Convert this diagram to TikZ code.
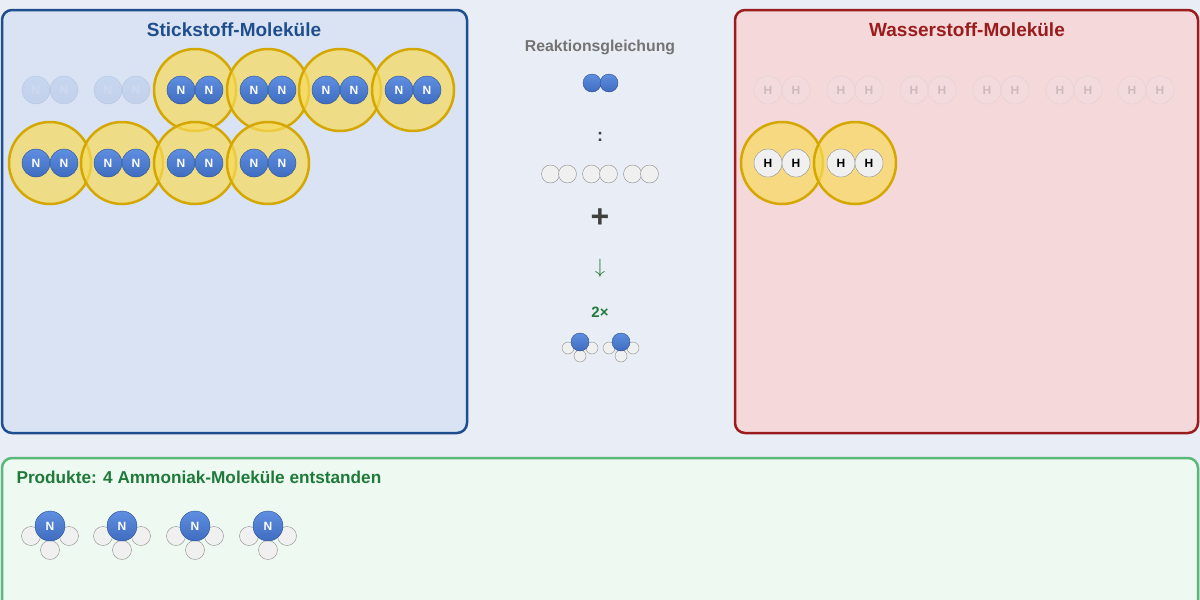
\documentclass[tikz,border=0pt]{standalone}
\usepackage{fontspec}
\setmainfont{Liberation Sans}
\usetikzlibrary{positioning}
\definecolor{bgc}{HTML}{E9EEF6}
\definecolor{nbox}{HTML}{DAE3F3}
\definecolor{nline}{HTML}{1F4E8F}
\definecolor{hbox}{HTML}{F4D8DA}
\definecolor{hline}{HTML}{9B1C1C}
\definecolor{pbox}{HTML}{EDF9F1}
\definecolor{pline}{HTML}{5CB878}
\definecolor{ptext}{HTML}{1F7A3A}
\definecolor{natom}{HTML}{5F8FE0}
\definecolor{ndark}{HTML}{3F6CC0}
\definecolor{nedge}{HTML}{2B4F8F}
\definecolor{gold}{HTML}{D4A800}
\definecolor{glow}{HTML}{F7DA5A}
\tikzset{
  box/.style={rounded corners=10pt, line width=2.5pt},
  natm/.style={circle, draw=nedge, top color=natom, bottom color=ndark, minimum size=#1, inner sep=0pt,
    text=white, font=\bfseries\fontsize{12}{12}\selectfont},
  hatm/.style={circle, draw=black!45, fill=white!94!black, minimum size=#1, inner sep=0pt,
    font=\bfseries\fontsize{12}{12}\selectfont},
  fade/.style={opacity=0.15},
  halo/.style={circle, draw=gold, line width=2.5pt, fill=glow, fill opacity=0.7, minimum size=82pt}
}
\begin{document}
\begin{tikzpicture}[x=1pt,y=-1pt]
\fill[bgc] (0,0) rectangle (1200,600);
\useasboundingbox (0,0) rectangle (1200,600);
% boxes
\draw[box, fill=nbox, draw=nline] (2,10) rectangle (467,433);
\draw[box, fill=hbox, draw=hline] (735,10) rectangle (1198,433);
\draw[box, fill=pbox, draw=pline] (2,458) rectangle (1198,612);
\node[text=nline, font=\bfseries\fontsize{19}{19}\selectfont] (NT) at (234,30) {Stickstoff-Moleküle};
\node[text=hline, font=\bfseries\fontsize{19}{19}\selectfont] (HT) at (967,30) {Wasserstoff-Moleküle};
\node[text=ptext, font=\bfseries\fontsize{17.2}{18}\selectfont, anchor=west] (PT) at (13,477) {Produkte: 4 Ammoniak-Moleküle entstanden};
% nitrogen
\foreach \x [count=\i] in {50,122} {
  \node[natm=28pt, fade] (Na\i) at (\x-14,90) {N};
  \node[natm=28pt, fade] (Nb\i) at (\x+14,90) {N};
}
\foreach \x/\y [count=\i] in {195/90,268/90,340/90,413/90,50/163,122/163,195/163,268/163} {
  \node[halo] (NG\i) at (\x,\y) {};
}
\foreach \x/\y [count=\i] in {195/90,268/90,340/90,413/90,50/163,122/163,195/163,268/163} {
  \node[natm=28pt] (NL\i) at (\x-14,\y) {N};
  \node[natm=28pt] (NR\i) at (\x+14,\y) {N};
}
% hydrogen
\foreach \x [count=\i] in {782,855,928,1001,1074,1146} {
  \node[hatm=28pt, fade] (HL\i) at (\x-14,90) {H};
  \node[hatm=28pt, fade] (HR\i) at (\x+14,90) {H};
}
\foreach \x [count=\i] in {782,855} {
  \node[halo] (HG\i) at (\x,163) {};
}
\foreach \x [count=\i] in {782,855} {
  \node[hatm=28pt] (HA\i) at (\x-14,163) {H};
  \node[hatm=28pt] (HB\i) at (\x+14,163) {H};
}
% equation
\node[text=black!55, font=\bfseries\fontsize{15.8}{16}\selectfont] (EQ) at (600,47) {Reaktionsgleichung};
\node[natm=18pt] (E1) at (592,83) {};
\node[natm=18pt] (E2) at (609,83) {};
\node[font=\bfseries\fontsize{18}{18}\selectfont, text=black!75] (CO) at (600,137) {:};
\foreach \x [count=\i] in {559,600,641} {
  \node[hatm=18pt] (EH\i) at (\x-8.5,174) {};
  \node[hatm=18pt] (EK\i) at (\x+8.5,174) {};
}
\node[font=\bfseries\fontsize{32}{32}\selectfont, text=black!75] (PL) at (600,218) {+};
\node[font=\fontsize{22}{22}\selectfont, text=ptext] (AR) at (600,268) {$\downarrow$};
\node[font=\bfseries\fontsize{15}{15}\selectfont, text=ptext] (TW) at (600,312) {2×};
\foreach \x [count=\i] in {580,621} {
  \node[hatm=12pt] (SA\i) at (\x-12,348) {};
  \node[hatm=12pt] (SB\i) at (\x+12,348) {};
  \node[hatm=12pt] (SC\i) at (\x,356) {};
  \node[natm=18pt] (SN\i) at (\x,342) {};
}
% products
\foreach \x [count=\i] in {50,122,195,268} {
  \node[hatm=19pt] (PA\i) at (\x-19,536) {};
  \node[hatm=19pt] (PB\i) at (\x+19,536) {};
  \node[hatm=19pt] (PC\i) at (\x,550) {};
  \node[natm=30pt] (PN\i) at (\x,526) {N};
}
\end{tikzpicture}
\end{document}
